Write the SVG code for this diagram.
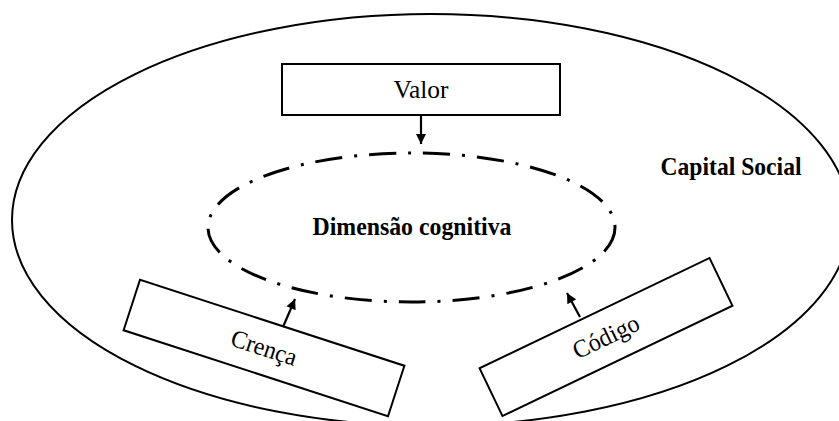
<svg xmlns="http://www.w3.org/2000/svg" width="839" height="421" viewBox="0 0 839 421">
<style>
.ln{fill:none;stroke:#000;stroke-width:2}
.box{fill:#fff;stroke:#000;stroke-width:2}
.t{font-family:"Liberation Serif","Times New Roman",serif;font-size:25px;fill:#000;text-anchor:middle}
.b{font-weight:bold}
.dd{fill:none;stroke:#000;stroke-width:3;stroke-dasharray:27 12 3 12}
.ar{fill:none;stroke:#000;stroke-width:2.2;marker-end:url(#ah)}
</style>
<defs>
<marker id="ah" viewBox="0 0 10 10" refX="10" refY="5" markerWidth="12" markerHeight="10" orient="auto" markerUnits="userSpaceOnUse">
<path d="M0,0 L10,5 L0,10 z" fill="#000"/>
</marker>
</defs>
<rect width="839" height="421" fill="#fff"/>
<g id="capital-social">
<ellipse class="ln" cx="431" cy="220" rx="419" ry="206"/>
<text class="t b" x="731" y="175" textLength="141" lengthAdjust="spacingAndGlyphs">Capital Social</text>
</g>
<g id="dimensao-cognitiva">
<ellipse class="dd" cx="411.5" cy="227.5" rx="203.5" ry="74.5"/>
<text class="t b" x="412" y="235" textLength="199" lengthAdjust="spacingAndGlyphs">Dimensão cognitiva</text>
</g>
<g id="valor">
<rect class="box" x="282" y="64" width="278" height="51"/>
<text class="t" x="421" y="98" textLength="55" lengthAdjust="spacingAndGlyphs">Valor</text>
</g>
<g id="crenca" transform="translate(264 348) rotate(18)">
<rect class="box" x="-139" y="-26.5" width="278" height="53"/>
<text class="t" x="0" y="8" textLength="68" lengthAdjust="spacingAndGlyphs">Crença</text>
</g>
<g id="codigo" transform="translate(606 337) rotate(-25.6)">
<rect class="box" x="-127.5" y="-26.5" width="255" height="53"/>
<text class="t" x="0" y="8" textLength="71" lengthAdjust="spacingAndGlyphs">Código</text>
</g>
<g id="connectors">
<line class="ar" x1="421" y1="115" x2="421" y2="144"/>
<line class="ar" x1="283" y1="327" x2="295" y2="299"/>
<line class="ar" x1="580" y1="317" x2="567" y2="293"/>
</g>
</svg>
